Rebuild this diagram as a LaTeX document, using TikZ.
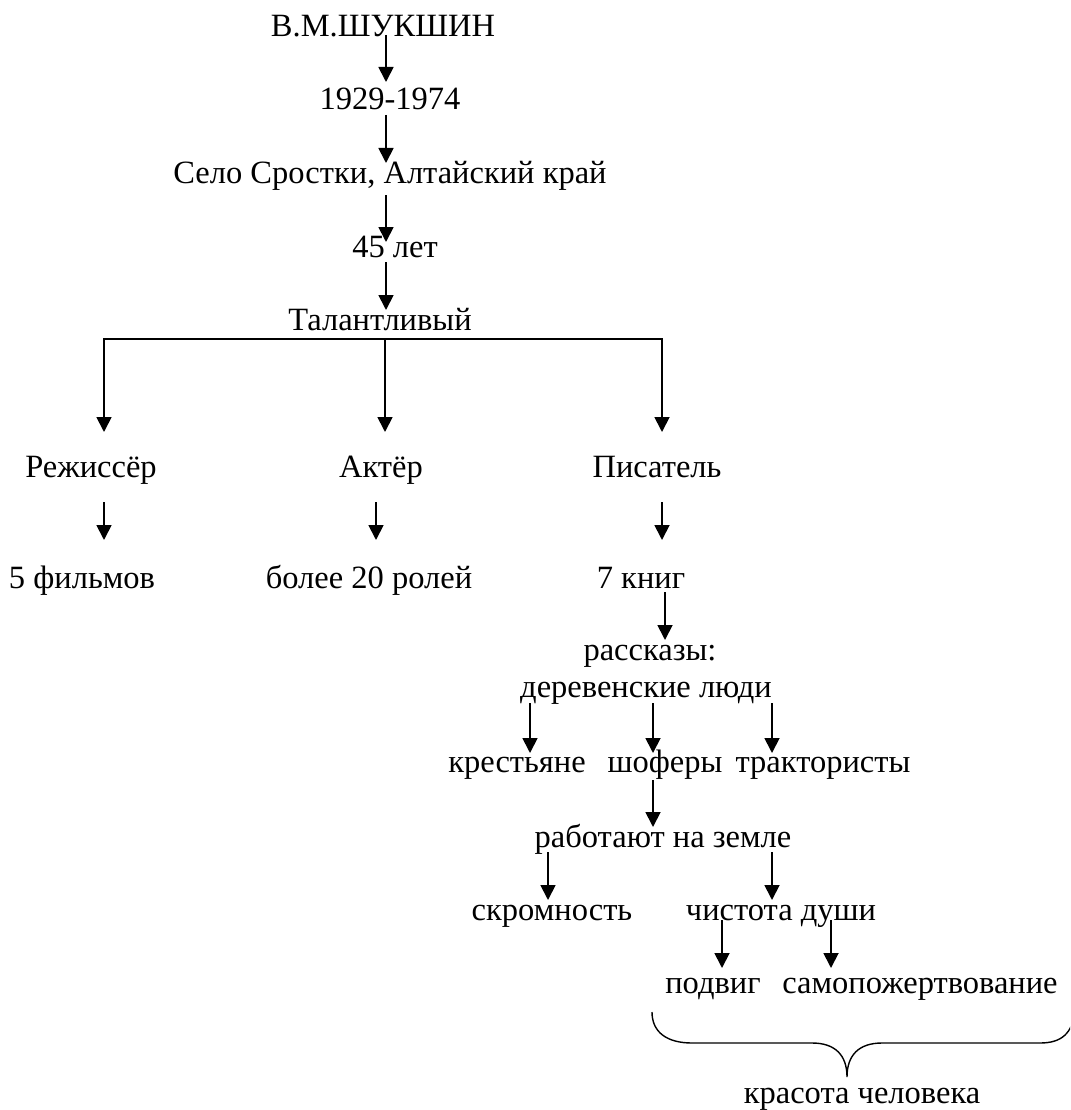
\documentclass[tikz,border=0pt]{standalone}
\usepackage{fontspec}
\setmainfont{Liberation Serif}
\usetikzlibrary{arrows.meta}
\begin{document}
\begin{tikzpicture}[x=1pt,y=1pt,
  lbl/.style={anchor=base,inner sep=0pt,font=\fontsize{32.5}{39}\selectfont},
  arr/.style={line width=1.8pt,-{Triangle[length=15pt,width=15pt]}},
  fan/.style={line width=1.8pt},
  bracepath/.style={line width=1.4pt}]
\useasboundingbox (0,0) rectangle (1070,-1110);
\clip (0,0) rectangle (1070,-1110);
% nodes
\node[lbl] (shuk) at (383,-37) {В.М.ШУКШИН};
\node[lbl] (years) at (390,-110) {1929-1974};
\node[lbl] (selo) at (390,-183) {Село Сростки, Алтайский край};
\node[lbl] (age) at (395,-257) {45 лет};
\node[lbl] (talent) at (380,-330) {Талантливый};
\node[lbl] (rezh) at (91,-477) {Режиссёр};
\node[lbl] (actor) at (381,-477) {Актёр};
\node[lbl] (writer) at (657,-477) {Писатель};
\node[lbl] (films) at (82,-588) {5 фильмов};
\node[lbl] (roles) at (369,-588) {более 20 ролей};
\node[lbl] (books) at (641,-588) {7 книг};
\node[lbl] (stories) at (650,-660) {рассказы:};
\node[lbl] (village) at (646,-697) {деревенские люди};
\node[lbl] (peasants) at (517,-772) {крестьяне};
\node[lbl] (drivers) at (665,-772) {шоферы};
\node[lbl] (tractor) at (823,-772) {трактористы};
\node[lbl] (work) at (663,-847) {работают на земле};
\node[lbl] (modesty) at (552,-920) {скромность};
\node[lbl] (purity) at (781,-920) {чистота души};
\node[lbl] (feat) at (713,-993) {подвиг};
\node[lbl] (sacr) at (920,-993) {самопожертвование};
\node[lbl] (beauty) at (862,-1103) {красота человека};
% vertical chain
\draw[arr] ([xshift=3pt,yshift=2pt]shuk.base) -- ([xshift=-4pt,yshift=28pt]years.base);
\draw[arr] ([xshift=-4pt,yshift=-5pt]years.base) -- ([xshift=-4pt,yshift=20pt]selo.base);
\draw[arr] ([xshift=-4pt,yshift=-12pt]selo.base) -- ([xshift=-9pt,yshift=15pt]age.base);
\draw[arr] ([xshift=-9pt,yshift=-5pt]age.base) -- ([xshift=6pt,yshift=20pt]talent.base);
% fan
\draw[arr,line cap=rect] ([xshift=5pt,yshift=-9pt]talent.base) -| ([xshift=13pt,yshift=45pt]rezh.base);
\draw[arr] ([xshift=5pt,yshift=-9pt]talent.base) -- ([xshift=4pt,yshift=45pt]actor.base);
\draw[arr,line cap=rect] ([xshift=5pt,yshift=-9pt]talent.base) -| ([xshift=5pt,yshift=45pt]writer.base);
% second row
\draw[arr] ([xshift=13pt,yshift=-25pt]rezh.base) -- ([xshift=22pt,yshift=48pt]films.base);
\draw[arr] ([xshift=-5pt,yshift=-25pt]actor.base) -- ([xshift=7pt,yshift=48pt]roles.base);
\draw[arr] ([xshift=5pt,yshift=-25pt]writer.base) -- ([xshift=21pt,yshift=48pt]books.base);
\draw[arr] ([xshift=24pt,yshift=-4pt]books.base) -- ([xshift=15pt,yshift=20pt]stories.base);
% village people
\draw[arr] ([xshift=-116pt,yshift=-6pt]village.base) -- ([xshift=13pt,yshift=19pt]peasants.base);
\draw[arr] ([xshift=7pt,yshift=-6pt]village.base) -- ([xshift=-12pt,yshift=19pt]drivers.base);
\draw[arr] ([xshift=126pt,yshift=-6pt]village.base) -- ([xshift=-51pt,yshift=19pt]tractor.base);
\draw[arr] ([xshift=-12pt,yshift=-8pt]drivers.base) -- ([xshift=-10pt,yshift=20pt]work.base);
\draw[arr] ([xshift=-115pt,yshift=-5pt]work.base) -- ([xshift=-4pt,yshift=20pt]modesty.base);
\draw[arr] ([xshift=109pt,yshift=-5pt]work.base) -- ([xshift=-9pt,yshift=20pt]purity.base);
\draw[arr] ([xshift=-59pt,yshift=0pt]purity.base) -- ([xshift=9pt,yshift=25pt]feat.base);
\draw[arr] ([xshift=50pt,yshift=0pt]purity.base) -- ([xshift=-89pt,yshift=25pt]sacr.base);
% brace
\draw[bracepath] (652,-1012) .. controls (652,-1033) and (668,-1043) .. (692,-1043)
  -- (812,-1043) .. controls (835,-1043) and (847,-1055) .. (847,-1077)
  .. controls (847,-1055) and (859,-1043) .. (882,-1043)
  -- (1040,-1043) .. controls (1062,-1043) and (1072,-1033) .. (1075,-1012);
\end{tikzpicture}
\end{document}
